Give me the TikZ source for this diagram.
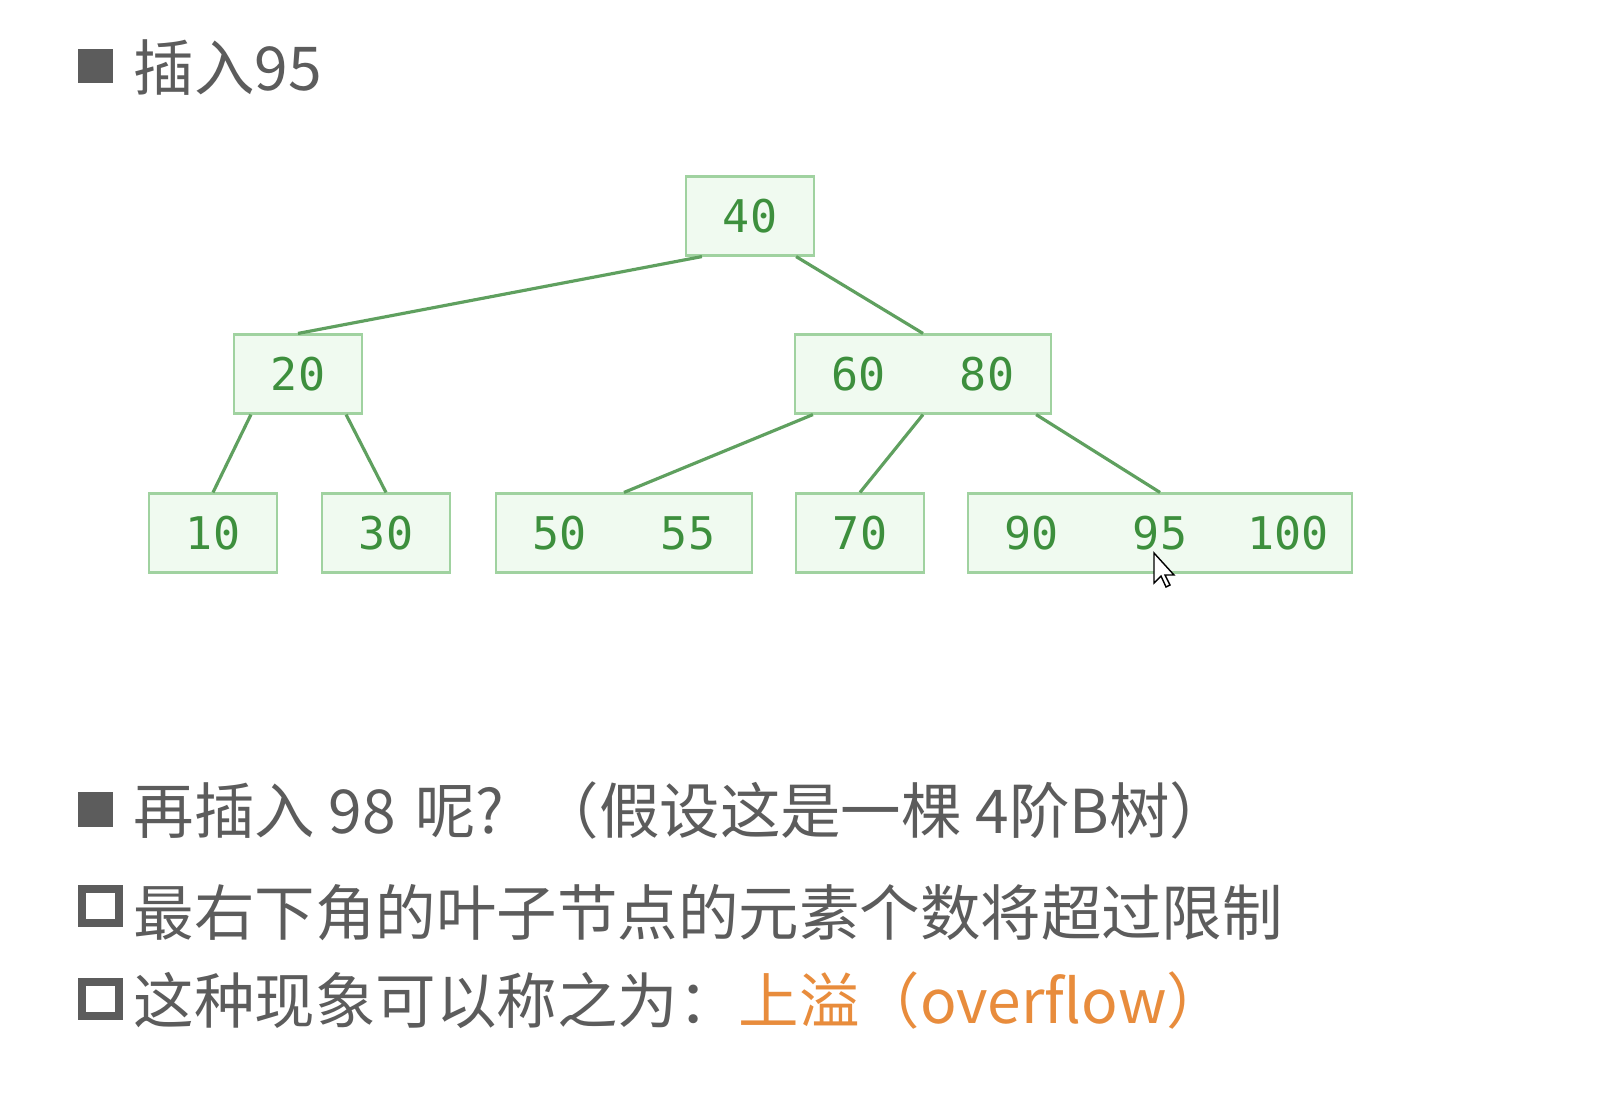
\documentclass[tikz,border=0pt]{standalone}
\usepackage{fontspec}
\newfontfamily\cjk{Noto Sans CJK SC}
\newfontfamily\keyfont{DejaVu Sans Mono}
\definecolor{keygreen}{RGB}{61,143,61}
\definecolor{boxline}{RGB}{160,210,160}
\definecolor{boxfill}{RGB}{240,250,240}
\definecolor{edgegreen}{RGB}{95,160,95}
\definecolor{textgray}{RGB}{92,92,92}
\definecolor{overorange}{RGB}{232,140,60}
\newcommand{\slot}[1]{\makebox[1.28cm]{#1}}

\begin{document}
\begin{tikzpicture}[x=0.01cm,y=-0.01cm,
    bnode/.style={draw=boxline,fill=boxfill,line width=0.6pt,inner sep=0pt,
      minimum height=0.79cm,text=keygreen,font=\keyfont\fontsize{12.8}{14}\selectfont},
    link/.style={draw=edgegreen,line width=0.9pt},
    textline/.style={anchor=base west,inner sep=0pt,text=textgray,
      font=\cjk\fontsize{17.2}{20}\selectfont}]
    \fill[white] (0,0) rectangle (1616,1118);
    \useasboundingbox (0,0) rectangle (1616,1118);
    % title
    \fill[textgray] (78,49) rectangle (113,83);
    \node[textline] (title) at (133,90) {插入95};
    % the tree
    \node[bnode] (n40) at (750,216) {\slot{40}};
    \node[bnode] (n20) at (298,374) {\slot{20}};
    \node[bnode] (n6080) at (923,374) {\slot{60}\slot{80}};
    \node[bnode] (n10) at (213,533) {\slot{10}};
    \node[bnode] (n30) at (386,533) {\slot{30}};
    \node[bnode] (n5055) at (624,533) {\slot{50}\slot{55}};
    \node[bnode] (n70) at (860,533) {\slot{70}};
    \node[bnode] (n9095) at (1160,533) {\slot{90}\slot{95}\slot{100}};
    \draw[link] ([xshift=0.17cm]n40.south west) -- (n20.north);
    \draw[link] ([xshift=-0.19cm]n40.south east) -- (n6080.north);
    \draw[link] ([xshift=0.18cm]n20.south west) -- (n10.north);
    \draw[link] ([xshift=-0.17cm]n20.south east) -- (n30.north);
    \draw[link] ([xshift=0.19cm]n6080.south west) -- (n5055.north);
    \draw[link] (n6080.south) -- (n70.north);
    \draw[link] ([xshift=-0.16cm]n6080.south east) -- (n9095.north);
    % mouse pointer
    \draw[black,fill=white,line width=0.4pt,line join=miter] (1154,553) -- ++(0,30) -- ++(7,-7)
        -- ++(5,11) -- ++(4,-2) -- ++(-5,-10) -- ++(9,0) -- cycle;
    % questions
    \fill[textgray] (78,792) rectangle (113,827);
    \node[textline] (ask) at (133,833) {再插入 98\hspace{0.6mm} 呢?\hspace{3.4mm}（假设这是一棵 4阶B树）};
    \draw[textgray,line width=2.3pt] (82,889) rectangle (119,923);
    \node[textline] (limit) at (133,935) {最右下角的叶子节点的元素个数将超过限制};
    \draw[textgray,line width=2.3pt] (82,982) rectangle (119,1016);
    \node[textline] (over) at (133,1023) {这种现象可以称之为：\textcolor{overorange}{上溢（overflow）}};
\end{tikzpicture}
\end{document}
